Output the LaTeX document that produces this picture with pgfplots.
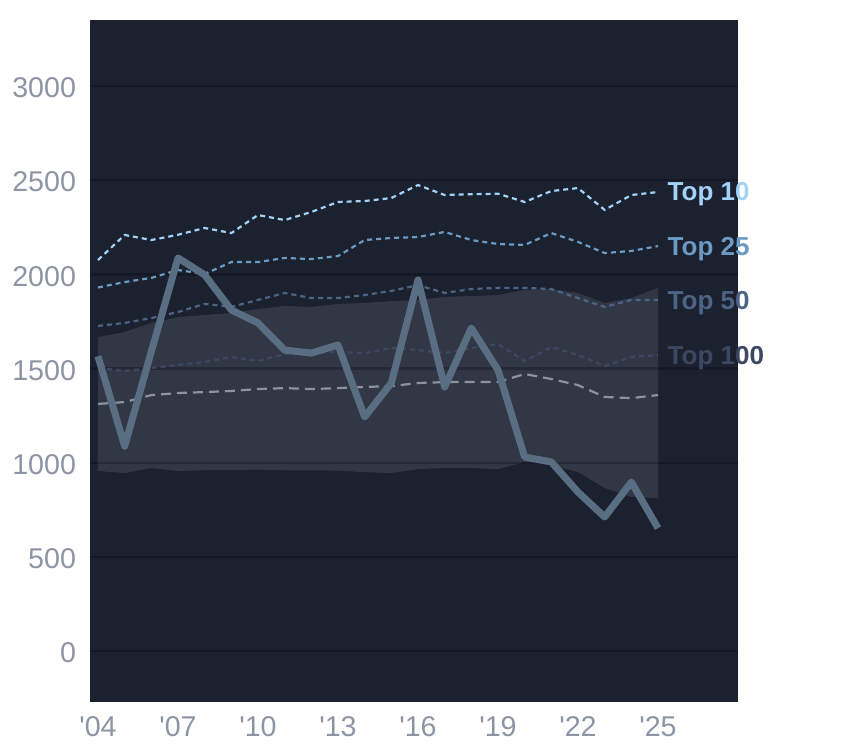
\documentclass[border=0pt]{standalone}
\usepackage{pgfplots}
\pgfplotsset{compat=1.18}
\usepackage{fontspec}
\setmainfont{Liberation Sans}
\definecolor{panel}{HTML}{1C2130}
\definecolor{band}{HTML}{323746}
\definecolor{mainc}{HTML}{5A6E83}
\definecolor{tten}{HTML}{A2D2F8}
\definecolor{ttwf}{HTML}{6B9AC4}
\definecolor{tfif}{HTML}{4C6486}
\definecolor{thun}{HTML}{3C4862}
\definecolor{medc}{HTML}{8E929C}
\definecolor{tickc}{HTML}{8D95A4}
\begin{document}
\begin{tikzpicture}
\fill[white] (-45pt,-23pt) rectangle (377pt,351pt);
\begin{axis}[
  at={(0,0)}, anchor=south west,
  scale only axis, width=324pt, height=341pt,
  xmin=2003.7, xmax=2028, ymin=-270, ymax=3350,
  axis background/.style={fill=panel},
  axis line style={draw=none},
  major tick length=0pt,
  xtick={2004,2007,2010,2013,2016,2019,2022,2025},
  xticklabels={\textquotesingle04,\textquotesingle07,\textquotesingle10,\textquotesingle13,\textquotesingle16,\textquotesingle19,\textquotesingle22,\textquotesingle25},
  ytick={0,500,1000,1500,2000,2500,3000},
  yticklabel style={/pgf/number format/assume math mode=true, /pgf/number format/1000 sep={}, font=\fontsize{14.3}{14.3}\selectfont, text=tickc, xshift=-3.5pt, yshift=-1pt},
  xticklabel style={/pgf/number format/assume math mode=true, font=\fontsize{14.3}{14.3}\selectfont, text=tickc, yshift=-3.5pt},
  scaled y ticks=false,
  clip=false,
]
% band
\addplot[fill=band, draw=none, forget plot] coordinates {
(2004,1667) (2005,1694) (2006,1742) (2007,1773) (2008,1784) (2009,1795) (2010,1816)
(2011,1832) (2012,1827) (2013,1843) (2014,1848) (2015,1858) (2016,1864) (2017,1880)
(2018,1885) (2019,1890) (2020,1917) (2021,1922) (2022,1901) (2023,1848) (2024,1874) (2025,1928)
(2025,812) (2024,818) (2023,866) (2022,950) (2021,988) (2020,1004) (2019,966) (2018,972)
(2017,972) (2016,966) (2015,945) (2014,950) (2013,958) (2012,960) (2011,960) (2010,963)
(2009,962) (2008,960) (2007,956) (2006,972) (2005,945) (2004,956)
} -- cycle;
% grid lines
\addplot[black, opacity=0.22, line width=1.2pt, forget plot] coordinates {(2003.7,0) (2028,0)};
\addplot[black, opacity=0.22, line width=1.2pt, forget plot] coordinates {(2003.7,500) (2028,500)};
\addplot[black, opacity=0.22, line width=1.2pt, forget plot] coordinates {(2003.7,1000) (2028,1000)};
\addplot[black, opacity=0.22, line width=1.2pt, forget plot] coordinates {(2003.7,1500) (2028,1500)};
\addplot[black, opacity=0.22, line width=1.2pt, forget plot] coordinates {(2003.7,2000) (2028,2000)};
\addplot[black, opacity=0.22, line width=1.2pt, forget plot] coordinates {(2003.7,2500) (2028,2500)};
\addplot[black, opacity=0.22, line width=1.2pt, forget plot] coordinates {(2003.7,3000) (2028,3000)};
% median-like dashed
\addplot[medc, line width=1.1pt, dash pattern=on 5pt off 3pt] coordinates {
(2004,1312) (2005,1322) (2006,1359) (2007,1370) (2008,1375) (2009,1381) (2010,1391)
(2011,1396) (2012,1391) (2013,1396) (2014,1402) (2015,1407) (2016,1423) (2017,1428)
(2018,1428) (2019,1428) (2020,1471) (2021,1444) (2022,1412) (2023,1349) (2024,1343) (2025,1359)};
% Top 100
\addplot[thun, line width=1.1pt, dash pattern=on 2.5pt off 2pt] coordinates {
(2004,1503) (2005,1487) (2006,1503) (2007,1519) (2008,1535) (2009,1561) (2010,1540)
(2011,1577) (2012,1582) (2013,1588) (2014,1582) (2015,1609) (2016,1598) (2017,1582)
(2018,1609) (2019,1630) (2020,1540) (2021,1614) (2022,1572) (2023,1513) (2024,1561) (2025,1572)};
% Top 50
\addplot[tfif, line width=1.1pt, dash pattern=on 2.5pt off 2pt] coordinates {
(2004,1726) (2005,1742) (2006,1768) (2007,1800) (2008,1843) (2009,1827) (2010,1864)
(2011,1901) (2012,1874) (2013,1874) (2014,1890) (2015,1912) (2016,1943) (2017,1901)
(2018,1922) (2019,1928) (2020,1928) (2021,1922) (2022,1874) (2023,1827) (2024,1864) (2025,1864)};
% Top 25
\addplot[ttwf, line width=1.1pt, dash pattern=on 2.5pt off 2pt] coordinates {
(2004,1930) (2005,1959) (2006,1981) (2007,2023) (2008,2002) (2009,2065) (2010,2065)
(2011,2087) (2012,2081) (2013,2097) (2014,2182) (2015,2193) (2016,2198) (2017,2225)
(2018,2182) (2019,2161) (2020,2156) (2021,2219) (2022,2172) (2023,2113) (2024,2124) (2025,2150)};
% Top 10
\addplot[tten, line width=1.1pt, dash pattern=on 2.5pt off 2pt] coordinates {
(2004,2076) (2005,2209) (2006,2182) (2007,2210) (2008,2246) (2009,2219) (2010,2315)
(2011,2288) (2012,2331) (2013,2384) (2014,2389) (2015,2405) (2016,2474) (2017,2421)
(2018,2425) (2019,2428) (2020,2384) (2021,2442) (2022,2458) (2023,2342) (2024,2421) (2025,2437)};
% main line
\addplot[mainc, line width=3.5pt, line join=round] coordinates {
(2004,1565) (2005,1088) (2006,1590) (2007,2087) (2008,1997) (2009,1811) (2010,1742)
(2011,1598) (2012,1582) (2013,1625) (2014,1243) (2015,1423) (2016,1970) (2017,1402)
(2018,1715) (2019,1492) (2020,1030) (2021,1004) (2022,844) (2023,712) (2024,897) (2025,653)};
% labels
\node[anchor=west, text=tten, font=\fontsize{13}{13}\selectfont\bfseries, yshift=-1.5pt] at (axis cs:2025.1,2442) {Top 10};
\node[anchor=west, text=ttwf, font=\fontsize{13}{13}\selectfont\bfseries, yshift=-1.5pt] at (axis cs:2025.1,2150) {Top 25};
\node[anchor=west, text=tfif, font=\fontsize{13}{13}\selectfont\bfseries, yshift=-1.5pt] at (axis cs:2025.1,1864) {Top 50};
\node[anchor=west, text=thun, font=\fontsize{13}{13}\selectfont\bfseries, yshift=-1.5pt] at (axis cs:2025.1,1572) {Top 100};
\end{axis}
\end{tikzpicture}
\end{document}
